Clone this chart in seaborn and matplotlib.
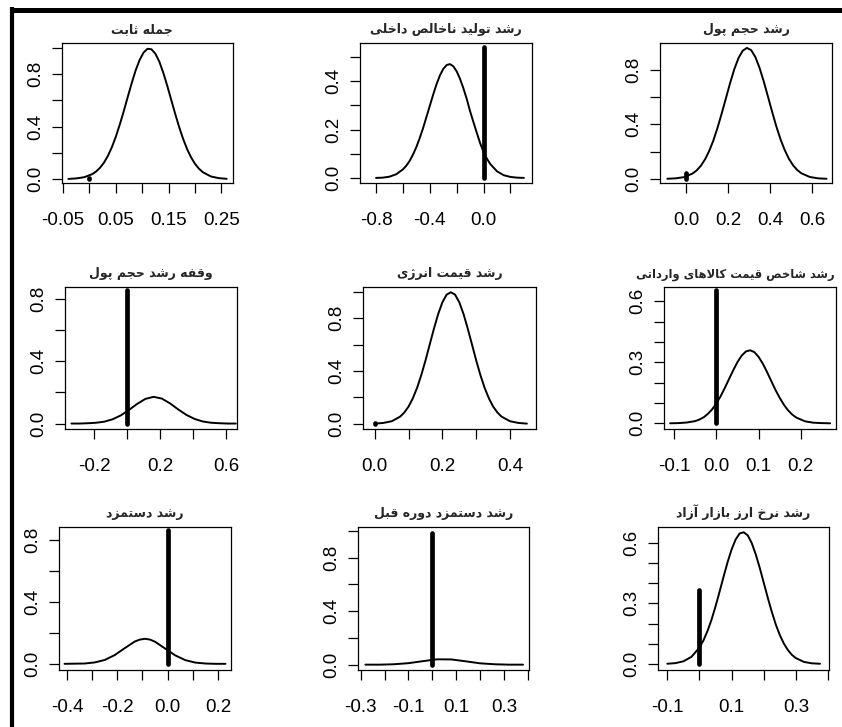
import matplotlib
matplotlib.use("Agg")
import matplotlib.pyplot as plt
from matplotlib.lines import Line2D
import seaborn as sns

# panel titles (row by row)
titles = ["جمله ثابت", "رشد تولید ناخالص داخلی", "رشد حجم پول",
          "وقفه رشد حجم پول", "رشد قیمت انرژی", "رشد شاخص قیمت کالاهای وارداتی",
          "رشد دستمزد", "رشد دستمزد دوره قبل", "رشد نرخ ارز بازار آزاد"]

# posterior densities
const_x = [-0.04, -0.025, -0.01, 0.005, 0.0125, 0.02, 0.0275, 0.035, 0.0425, 0.05, 0.0575,
           0.065, 0.0725, 0.08, 0.0875, 0.095, 0.1025, 0.11, 0.1175, 0.125, 0.1325, 0.14,
           0.1475, 0.155, 0.1625, 0.17, 0.1775, 0.185, 0.1925, 0.2, 0.2075, 0.215, 0.23,
           0.245, 0.26]
const_y = [0.001, 0.005, 0.014, 0.037, 0.057, 0.086, 0.125, 0.177, 0.243, 0.323, 0.416,
           0.517, 0.625, 0.730, 0.828, 0.907, 0.964, 0.993, 0.989, 0.955, 0.894, 0.809,
           0.710, 0.603, 0.497, 0.396, 0.306, 0.229, 0.166, 0.116, 0.079, 0.052, 0.020,
           0.007, 0.002]

gdp_x = [-0.8, -0.75, -0.7, -0.65, -0.6, -0.575, -0.55, -0.525, -0.5, -0.475, -0.45, -0.425,
         -0.4, -0.375, -0.35, -0.325, -0.3, -0.275, -0.25, -0.225, -0.2, -0.175, -0.15,
         -0.125, -0.1, -0.075, -0.05, -0.025, 0.0, 0.025, 0.05, 0.1, 0.15, 0.2, 0.25, 0.3]
gdp_y = [0.001, 0.002, 0.006, 0.016, 0.036, 0.051, 0.071, 0.097, 0.128, 0.165, 0.206, 0.252,
         0.298, 0.344, 0.387, 0.423, 0.450, 0.466, 0.470, 0.461, 0.440, 0.409, 0.370,
         0.326, 0.275, 0.230, 0.186, 0.143, 0.108, 0.080, 0.058, 0.028, 0.012, 0.005, 0.002, 0.001]

money_x = [-0.09, -0.05, -0.01, 0.03, 0.05, 0.07, 0.09, 0.11, 0.13, 0.15, 0.17, 0.19, 0.21,
           0.23, 0.25, 0.27, 0.29, 0.31, 0.33, 0.35, 0.37, 0.39, 0.41, 0.43, 0.45, 0.47,
           0.49, 0.51, 0.53, 0.55, 0.59, 0.63, 0.67]
money_y = [0.001, 0.004, 0.013, 0.039, 0.062, 0.096, 0.143, 0.205, 0.282, 0.376, 0.481, 0.592,
           0.703, 0.804, 0.885, 0.938, 0.958, 0.942, 0.892, 0.813, 0.714, 0.604, 0.492,
           0.385, 0.291, 0.212, 0.148, 0.100, 0.065, 0.041, 0.014, 0.004, 0.001]

money_lag_x = [-0.34, -0.29, -0.24, -0.19, -0.14, -0.09, -0.04, 0.01, 0.06, 0.11, 0.16,
               0.21, 0.26, 0.31, 0.36, 0.41, 0.46, 0.51, 0.56, 0.61, 0.66]
money_lag_y = [0.000, 0.000, 0.002, 0.005, 0.012, 0.027, 0.052, 0.087, 0.126, 0.158, 0.171,
               0.160, 0.129, 0.090, 0.055, 0.029, 0.013, 0.005, 0.002, 0.000, 0.000]

energy_x = [0.0, 0.025, 0.05, 0.075, 0.0875, 0.1, 0.1125, 0.125, 0.1375, 0.15, 0.1625, 0.175,
            0.1875, 0.2, 0.2125, 0.225, 0.2375, 0.25, 0.2625, 0.275, 0.2875, 0.3, 0.3125,
            0.325, 0.3375, 0.35, 0.3625, 0.375, 0.4, 0.425, 0.45]
energy_y = [0.001, 0.006, 0.019, 0.054, 0.086, 0.131, 0.193, 0.272, 0.369, 0.481, 0.602, 0.722,
            0.833, 0.922, 0.980, 0.998, 0.980, 0.922, 0.833, 0.722, 0.602, 0.481, 0.369,
            0.272, 0.193, 0.131, 0.086, 0.054, 0.019, 0.006, 0.001]

import_x = [-0.11, -0.09, -0.07, -0.05, -0.04, -0.03, -0.02, -0.01, 0.0, 0.01, 0.02, 0.03,
            0.04, 0.05, 0.06, 0.07, 0.08, 0.09, 0.10, 0.11, 0.12, 0.13, 0.14, 0.15, 0.16,
            0.17, 0.18, 0.19, 0.21, 0.23, 0.25, 0.27]
import_y = [0.000, 0.001, 0.004, 0.011, 0.019, 0.030, 0.047, 0.069, 0.098, 0.133, 0.174, 0.218,
            0.261, 0.301, 0.333, 0.353, 0.359, 0.350, 0.327, 0.294, 0.253, 0.209, 0.165, 0.126,
            0.092, 0.064, 0.043, 0.028, 0.010, 0.003, 0.001, 0.000]

wage_x = [-0.41, -0.37, -0.33, -0.29, -0.25, -0.21, -0.17, -0.13, -0.11, -0.09, -0.07,
          -0.05, -0.01, 0.03, 0.07, 0.11, 0.15, 0.19, 0.23]
wage_y = [0.000, 0.001, 0.002, 0.009, 0.025, 0.057, 0.102, 0.145, 0.157, 0.162, 0.157,
          0.143, 0.099, 0.055, 0.024, 0.008, 0.002, 0.000, 0.000]

wage_lag_x = [-0.28, -0.22, -0.16, -0.10, -0.04, 0.02, 0.08, 0.14, 0.20, 0.26, 0.32, 0.38]
wage_lag_y = [0.000, 0.000, 0.003, 0.011, 0.026, 0.040, 0.039, 0.025, 0.010, 0.003, 0.000, 0.000]

fx_x = [-0.1, -0.075, -0.05, -0.025, 0.0, 0.0125, 0.025, 0.0375, 0.05, 0.0625, 0.075, 0.0875,
        0.1, 0.1125, 0.125, 0.1375, 0.15, 0.1625, 0.175, 0.1875, 0.2, 0.2125, 0.225, 0.2375,
        0.25, 0.2625, 0.275, 0.2875, 0.3, 0.325, 0.35, 0.375]
fx_y = [0.001, 0.004, 0.013, 0.035, 0.081, 0.117, 0.163, 0.219, 0.285, 0.357, 0.432, 0.504,
        0.567, 0.616, 0.646, 0.652, 0.637, 0.599, 0.543, 0.476, 0.402, 0.328, 0.258, 0.195,
        0.143, 0.101, 0.069, 0.045, 0.029, 0.010, 0.003, 0.001]

# probability mass at zero (1 - PIP)
spike_h = [0.010, 0.541, 0.040, 0.858, 0.005, 0.654, 0.865, 0.987, 0.365]

x_ticks = [[-0.05, 0.0, 0.05, 0.1, 0.15, 0.2, 0.25],
           [-0.8, -0.6, -0.4, -0.2, 0.0, 0.2],
           [0.0, 0.2, 0.4, 0.6],
           [-0.2, 0.0, 0.2, 0.4, 0.6],
           [0.0, 0.1, 0.2, 0.3, 0.4],
           [-0.1, 0.0, 0.1, 0.2],
           [-0.4, -0.3, -0.2, -0.1, 0.0, 0.1, 0.2],
           [-0.3, -0.2, -0.1, 0.0, 0.1, 0.2, 0.3, 0.4],
           [-0.1, 0.0, 0.1, 0.2, 0.3, 0.4]]
x_labels = [["-0.05", "", "0.05", "", "0.15", "", "0.25"],
            ["-0.8", "", "-0.4", "", "0.0", ""],
            ["0.0", "0.2", "0.4", "0.6"],
            ["-0.2", "", "0.2", "", "0.6"],
            ["0.0", "", "0.2", "", "0.4"],
            ["-0.1", "0.0", "0.1", "0.2"],
            ["-0.4", "", "-0.2", "", "0.0", "", "0.2"],
            ["-0.3", "", "-0.1", "", "0.1", "", "0.3", ""],
            ["-0.1", "", "0.1", "", "0.3", ""]]
y_ticks = [[0, 0.2, 0.4, 0.6, 0.8, 1.0],
           [0, 0.1, 0.2, 0.3, 0.4, 0.5],
           [0, 0.2, 0.4, 0.6, 0.8],
           [0, 0.2, 0.4, 0.6, 0.8],
           [0, 0.2, 0.4, 0.6, 0.8, 1.0],
           [0, 0.1, 0.2, 0.3, 0.4, 0.5, 0.6],
           [0, 0.2, 0.4, 0.6, 0.8],
           [0, 0.2, 0.4, 0.6, 0.8, 1.0],
           [0, 0.1, 0.2, 0.3, 0.4, 0.5, 0.6]]
y_labels = [["0.0", "", "0.4", "", "0.8", ""],
            ["0.0", "", "0.2", "", "0.4", ""],
            ["0.0", "", "0.4", "", "0.8"],
            ["0.0", "", "0.4", "", "0.8"],
            ["0.0", "", "0.4", "", "0.8", ""],
            ["0.0", "", "", "0.3", "", "", "0.6"],
            ["0.0", "", "0.4", "", "0.8"],
            ["0.0", "", "0.4", "", "0.8", ""],
            ["0.0", "", "", "0.3", "", "", "0.6"]]

curves = [(const_x, const_y), (gdp_x, gdp_y), (money_x, money_y),
          (money_lag_x, money_lag_y), (energy_x, energy_y), (import_x, import_y),
          (wage_x, wage_y), (wage_lag_x, wage_lag_y), (fx_x, fx_y)]

# axes boxes in pixels (left, top, right, bottom) and limits
boxes = [(62, 43, 233, 183), (360, 43, 532, 183), (660, 43, 832, 183),
         (65, 287, 237, 429), (363, 287, 536, 429), (664, 287, 836, 429),
         (59, 527, 231, 670), (358, 527, 529, 670), (658, 527, 829, 670)]
xlims = [(-0.052, 0.272), (-0.919, 0.36), (-0.125, 0.696), (-0.379, 0.667), (-0.035, 0.477),
         (-0.1245, 0.284), (-0.432, 0.252), (-0.311, 0.405), (-0.129, 0.403)]
ylims = [(-0.03, 1.037), (-0.02, 0.557), (-0.03, 0.994), (-0.035, 0.875), (-0.04, 1.038),
         (-0.028, 0.67), (-0.04, 0.886), (-0.04, 1.03), (-0.03, 0.678)]
title_x = [0.47, 0.5, 0.5, 0.5, 0.5, 0.415, 0.5, 0.5, 0.5]
title_size = [9, 9, 9, 9, 9, 8.3, 9, 9, 9]


# minimal Persian shaping: matplotlib has no bidi / joining support
DUAL = {"ب": 0xFE8F, "پ": 0xFB56, "ت": 0xFE95, "ث": 0xFE99, "ج": 0xFE9D, "چ": 0xFB7A,
        "ح": 0xFEA1, "خ": 0xFEA5, "س": 0xFEB1, "ش": 0xFEB5, "ص": 0xFEB9, "ض": 0xFEBD,
        "ط": 0xFEC1, "ظ": 0xFEC5, "ع": 0xFEC9, "غ": 0xFECD, "ف": 0xFED1, "ق": 0xFED5,
        "ك": 0xFED9, "ک": 0xFB8E, "گ": 0xFB92, "ل": 0xFEDD, "م": 0xFEE1, "ن": 0xFEE5,
        "ه": 0xFEE9, "ي": 0xFEF1, "ی": 0xFBFC, "ئ": 0xFE89}
RIGHT = {"آ": 0xFE81, "ا": 0xFE8D, "د": 0xFEA9, "ذ": 0xFEAB, "ر": 0xFEAD, "ز": 0xFEAF,
         "ژ": 0xFB8A, "و": 0xFEED}


def shape(text):
    out = []
    i = 0
    n = len(text)
    while i < n:
        c = text[i]
        prev = text[i - 1] if i > 0 else ""
        nxt = text[i + 1] if i + 1 < n else ""
        joined_prev = prev in DUAL
        if c == "ل" and nxt in ("ا", "آ"):
            base = 0xFEFB if nxt == "ا" else 0xFEF5
            out.append(chr(base + (1 if joined_prev else 0)))
            i += 2
            continue
        if c in DUAL:
            joins_next = nxt in DUAL or nxt in RIGHT
            off = 3 if (joined_prev and joins_next) else 1 if joined_prev else 2 if joins_next else 0
            out.append(chr(DUAL[c] + off))
        elif c in RIGHT:
            out.append(chr(RIGHT[c] + (1 if joined_prev else 0)))
        else:
            out.append(c)
        i += 1
    return "".join(reversed(out))


sns.set_theme(style="ticks")
plt.rcParams["font.family"] = ["Liberation Sans", "DejaVu Sans"]
plt.rcParams["axes.unicode_minus"] = False

W, H = 842, 727
fig = plt.figure(figsize=(W / 100, H / 100), dpi=100)
fig.patch.set_facecolor("white")

for k in range(9):
    l, t, r, b = boxes[k]
    ax = fig.add_axes([l / W, 1 - b / H, (r - l) / W, (b - t) / H])
    cx, cy = curves[k]
    sns.lineplot(x=cx, y=cy, ax=ax, color="black", linewidth=1.4, estimator=None)
    ax.plot([0, 0], [0, spike_h[k]], color="black", linewidth=3.4, solid_capstyle="round")
    ax.set_xlim(*xlims[k])
    ax.set_ylim(*ylims[k])
    ax.set_xticks(x_ticks[k])
    ax.set_xticklabels(x_labels[k])
    ax.set_yticks(y_ticks[k])
    ax.set_yticklabels(y_labels[k], rotation=90, va="center")
    ax.tick_params(axis="both", direction="out", length=7, width=0.9, color="black",
                   labelsize=13.5, labelcolor="black")
    ax.tick_params(axis="x", pad=14)
    ax.tick_params(axis="y", pad=6)
    for sp in ax.spines.values():
        sp.set_visible(True)
        sp.set_linewidth(0.9)
        sp.set_color("black")
    ax.set_xlabel("")
    ax.set_ylabel("")
    ax.set_title(shape(titles[k]), family="DejaVu Sans", fontweight="bold",
                 fontsize=title_size[k], pad=7, x=title_x[k])

# thick frame on the top and left edges
fig.add_artist(Line2D([10 / W, 1], [1 - 9.5 / H, 1 - 9.5 / H], transform=fig.transFigure,
                      color="black", linewidth=3.6, solid_capstyle="butt"))
fig.add_artist(Line2D([12 / W, 12 / W], [0, 1 - 7 / H], transform=fig.transFigure,
                      color="black", linewidth=3.0, solid_capstyle="butt"))

fig.savefig("out.png", dpi=100)
